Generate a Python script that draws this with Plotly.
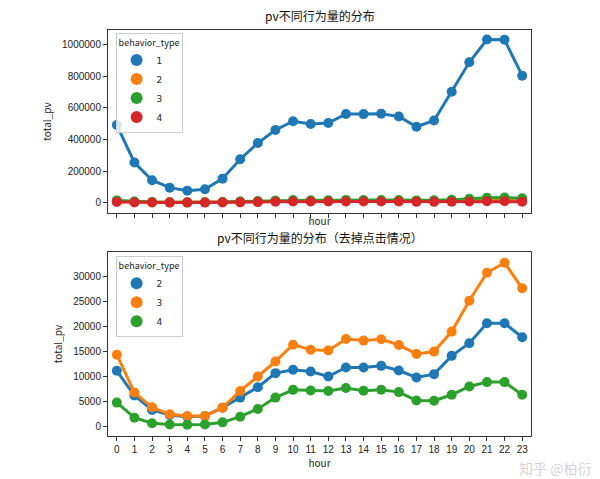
import plotly.graph_objects as go

# 小时
hours = list(range(24))

# 各行为类型每小时的 pv
pv_type1 = [491000, 254000, 142000, 95000, 76000, 85000, 152000, 275000, 377000, 460000, 515000, 498000,
            504000, 561000, 560000, 563000, 545000, 480000, 520000, 702000, 888000, 1032000, 1030000, 803000]
pv_type2 = [11140, 6200, 3340, 2340, 2000, 2150, 3800, 5800, 7870, 10670, 11340, 11000,
            10000, 11800, 11790, 12120, 11190, 9800, 10470, 14110, 16630, 20600, 20600, 17820]
pv_type3 = [14340, 6800, 3870, 2470, 2130, 2130, 3800, 7130, 10000, 13000, 16340, 15340,
            15200, 17480, 17150, 17420, 16290, 14500, 14960, 18940, 25100, 30660, 32650, 27560]
pv_type4 = [4800, 1800, 700, 450, 400, 450, 870, 2000, 3540, 5800, 7340, 7200,
            7100, 7700, 7150, 7350, 6890, 5230, 5170, 6360, 8010, 8880, 8880, 6360]

top_series = [("1", pv_type1), ("2", pv_type2), ("3", pv_type3), ("4", pv_type4)]
bottom_series = [("2", pv_type2), ("3", pv_type3), ("4", pv_type4)]
colors = ["#1f77b4", "#ff7f0e", "#2ca02c", "#d62728"]

top_yticks = [0, 200000, 400000, 600000, 800000, 1000000]
bottom_yticks = [0, 5000, 10000, 15000, 20000, 25000, 30000]

cjk = "Noto Sans CJK SC"
fig = go.Figure()

# 上图：包含点击
for i, (name, vals) in enumerate(top_series):
    fig.add_trace(go.Scatter(x=hours, y=vals, mode="lines+markers", xaxis="x", yaxis="y",
                             line=dict(color=colors[i], width=3),
                             marker=dict(color=colors[i], size=10), showlegend=False))
for i, (name, vals) in enumerate(top_series):
    fig.add_trace(go.Scatter(x=[None], y=[None], mode="markers", name=name, legend="legend",
                             marker=dict(color=colors[i], size=10)))

# 下图：去掉点击
for i, (name, vals) in enumerate(bottom_series):
    fig.add_trace(go.Scatter(x=hours, y=vals, mode="lines+markers", xaxis="x2", yaxis="y2",
                             line=dict(color=colors[i], width=3),
                             marker=dict(color=colors[i], size=10), showlegend=False))
for i, (name, vals) in enumerate(bottom_series):
    fig.add_trace(go.Scatter(x=[None], y=[None], mode="markers", name=name, legend="legend2",
                             marker=dict(color=colors[i], size=10)))

axis_style = dict(showline=True, mirror=True, linecolor="#333333", linewidth=1, showgrid=False,
                  zeroline=False, ticks="outside", ticklen=4, tickcolor="#333333", automargin=False,
                  tickfont=dict(family="Liberation Sans", size=10, color="#222222"))

legend_style = dict(title=dict(text="behavior_type", font=dict(family=cjk, size=9, color="#222")),
                    font=dict(family="DejaVu Sans", size=9, color="#222"),
                    bordercolor="#cccccc", borderwidth=1, bgcolor="rgba(255,255,255,0.8)",
                    xanchor="left", yanchor="top", itemsizing="constant", tracegroupgap=0,
                    itemwidth=30)

fig.update_layout(
    width=600, height=479,
    margin=dict(l=108, r=69, t=30, b=43),
    plot_bgcolor="white", paper_bgcolor="white",
    xaxis=dict(axis_style, domain=[0, 1], range=[-0.5, 23.5], tickvals=hours, showticklabels=False,
               anchor="y", title=dict(text="hour", font=dict(family=cjk, size=10, color="#222"), standoff=0)),
    yaxis=dict(axis_style, domain=[0.549, 1], range=[-66000, 1092000], tickvals=top_yticks,
               tickformat="d", anchor="x",
               title=dict(text="total_pv", font=dict(family=cjk, size=10, color="#222"), standoff=8)),
    xaxis2=dict(axis_style, domain=[0, 1], range=[-0.5, 23.5], tickvals=hours, anchor="y2",
                title=dict(text="hour", font=dict(family=cjk, size=10, color="#222"), standoff=2)),
    yaxis2=dict(axis_style, domain=[0, 0.453], range=[-1850, 34780], tickvals=bottom_yticks,
                tickformat="d", anchor="x2",
                title=dict(text="total_pv", font=dict(family=cjk, size=10, color="#222"), standoff=8)),
    legend=dict(legend_style, x=0.018, y=0.993),
    legend2=dict(legend_style, x=0.018, y=0.443),
    annotations=[
        dict(text="pv不同行为量的分布", x=0.5, y=1, xref="paper", yref="paper", yanchor="bottom",
             yshift=4, showarrow=False, font=dict(family=cjk, size=12, color="#111")),
        dict(text="pv不同行为量的分布（去掉点击情况）", x=0.5, y=0.453, xref="paper", yref="paper",
             yanchor="bottom", yshift=4, showarrow=False, font=dict(family=cjk, size=12, color="#111")),
        dict(text="知乎 @柏衍", x=(592 - 108) / 423, y=(436 - 479) / 406, xref="paper", yref="paper",
             xanchor="right", yanchor="bottom", showarrow=False, borderpad=0,
             font=dict(family=cjk, size=14, color="rgba(200,200,200,0.8)"))
    ],
)

# 去掉页面默认边距，让图正好铺满窗口
fig.write_html("out.html", config={"displayModeBar": False},
               post_script="document.body.style.margin='0';")
